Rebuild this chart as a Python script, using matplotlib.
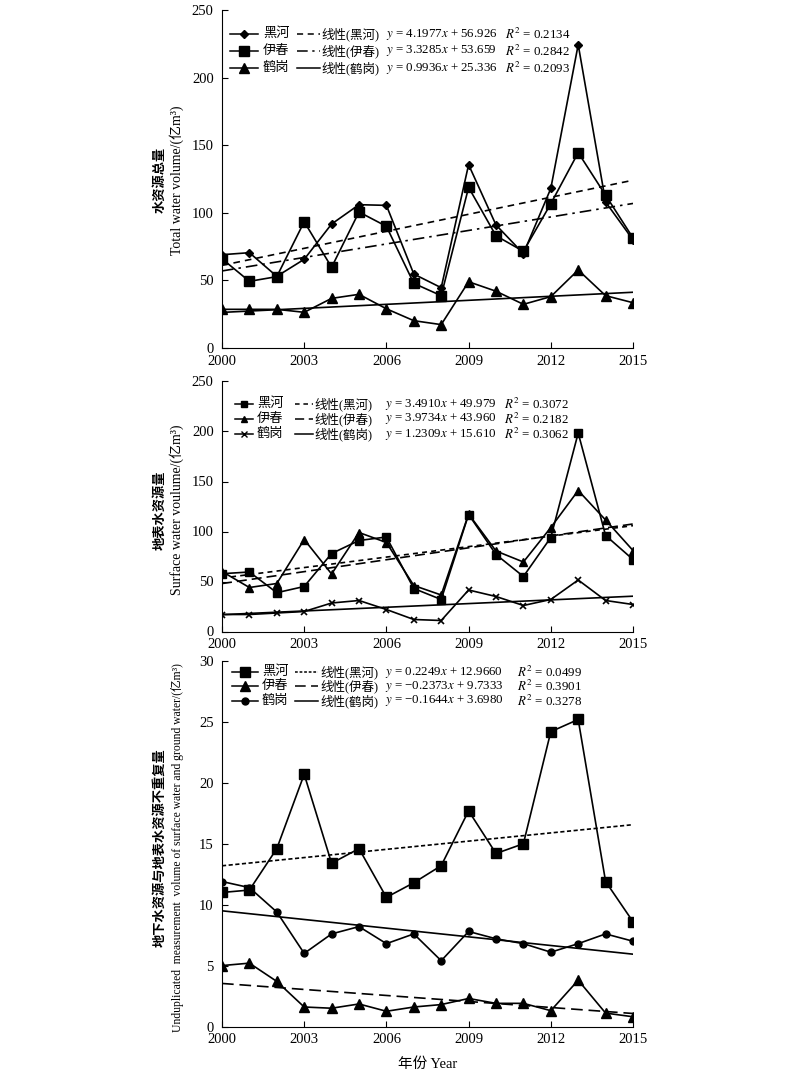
import matplotlib
matplotlib.use('Agg')
import matplotlib.pyplot as plt
from matplotlib.lines import Line2D
import numpy as np

plt.rcParams['font.family'] = ['Liberation Serif', 'Noto Sans CJK SC']
plt.rcParams['mathtext.fontset'] = 'stix'
plt.rcParams['font.size'] = 9

years = np.arange(2000, 2016)

# panel 1 - total water volume
total_heihe = [69, 70.5, 53, 65.6, 91.7, 106, 105.5, 54.7, 44.6, 135.6, 91, 69.8, 118, 224.4, 108, 80]
total_yichun = [66, 49.3, 52.8, 93.4, 59.7, 100.6, 90, 47.8, 38.7, 118.8, 83, 71.5, 106.7, 144.5, 113, 81.4]
total_hegang = [28.6, 28.6, 28.6, 26.4, 36.7, 39.7, 29, 20.2, 17.3, 49, 42, 32.3, 38, 57.7, 38.7, 33.5]
total_fit = [(4.1977, 56.926), (3.3285, 53.659), (0.9936, 25.336)]
total_r2 = ['0.2134', '0.2842', '0.2093']

# panel 2 - surface water
surf_heihe = [57.8, 59.5, 38.8, 45, 78, 91, 94.5, 43, 32, 117, 77, 55, 94, 198.5, 96, 72]
surf_yichun = [60, 44, 48, 92, 57.5, 99, 89, 46, 36.5, 117.5, 80.5, 69.5, 104, 141, 111.5, 81]
surf_hegang = [17, 17, 18.5, 20, 28.5, 31, 22, 12, 11, 41.5, 35, 26, 32, 51.5, 31, 27]
surf_fit = [(3.4910, 49.979), (3.9734, 43.960), (1.2309, 15.610)]
surf_r2 = ['0.3072', '0.2182', '0.3062']

# panel 3 - unduplicated volume
und_heihe = [11.0, 11.2, 14.6, 20.7, 13.4, 14.6, 10.6, 11.8, 13.2, 17.7, 14.2, 15.0, 24.2, 25.2, 11.9, 8.6]
und_yichun = [5.0, 5.2, 3.7, 1.6, 1.5, 1.85, 1.25, 1.6, 1.8, 2.3, 1.9, 1.9, 1.3, 3.8, 1.1, 0.8]
und_hegang = [11.9, 11.4, 9.4, 6.0, 7.6, 8.2, 6.8, 7.6, 5.4, 7.8, 7.2, 6.8, 6.1, 6.8, 7.6, 7.0]
# lines as drawn in the figure (legend text pairs them differently)
und_fit = [(0.2249, 12.9660), (-0.1644, 3.6980), (-0.2373, 9.7333)]
und_eq = ['$y$ = 0.2249$x$ + 12.9660', '$y$ = −0.2373$x$ + 9.7333', '$y$ = −0.1644$x$ + 3.6980']
und_r2 = ['0.0499', '0.3901', '0.3278']

names = ['黑河', '伊春', '鹤岗']

fig = plt.figure(figsize=(8, 10.72), dpi=100)
W, H = 800.0, 1072.0
left, right = 222 / W, 633 / W


def make_ax(top_px, bot_px):
    ax = fig.add_axes([left, 1 - bot_px / H, right - left, (bot_px - top_px) / H])
    ax.spines['top'].set_visible(False)
    ax.spines['right'].set_visible(False)
    ax.tick_params(direction='in', length=4, width=0.8, labelsize=10.5)
    ax.tick_params(axis='x', pad=5)
    ax.tick_params(axis='y', pad=6)
    ax.set_xlim(2000, 2015)
    ax.set_xticks(range(2000, 2016, 3))
    return ax


def px_to_ax(ax, x, y):
    # figure pixel (from top) to axes fraction
    pos = ax.get_position()
    fx = x / W
    fy = 1 - y / H
    return (fx - pos.x0) / pos.width, (fy - pos.y0) / pos.height


def legend_rows(ax, rows, mstyle, tstyle, eqs, r2s, cols):
    hx0, hx1, nx, tx0, tx1, lx, ex, rx = cols
    for i in range(3):
        y = rows[i]
        a0, ay = px_to_ax(ax, hx0, y)
        a1, _ = px_to_ax(ax, hx1, y)
        ax.add_line(Line2D([a0, a1], [ay, ay], transform=ax.transAxes, color='k', lw=1.1, clip_on=False))
        ax.add_line(Line2D([(a0 + a1) / 2], [ay], transform=ax.transAxes, color='k', marker=mstyle[i][0],
                           ms=mstyle[i][1], mew=1, clip_on=False))
        t0, _ = px_to_ax(ax, tx0, y)
        t1, _ = px_to_ax(ax, tx1, y)
        ax.add_line(Line2D([t0, t1], [ay, ay], transform=ax.transAxes, color='k', lw=1.1,
                           linestyle=tstyle[i], clip_on=False))
        ax.text(px_to_ax(ax, nx, y)[0], ay, names[i], transform=ax.transAxes, va='center', ha='left', fontsize=9.5)
        ax.text(px_to_ax(ax, lx, y)[0], ay, '线性(' + names[i] + ')', transform=ax.transAxes,
                va='center', ha='left', fontsize=9)
        ax.text(px_to_ax(ax, ex, y)[0], ay, eqs[i], transform=ax.transAxes, va='center', ha='left', fontsize=9.3)
        ax.text(px_to_ax(ax, rx, y)[0], ay, '$R^2$ = ' + r2s[i], transform=ax.transAxes,
                va='center', ha='left', fontsize=9.3)


def ylab(ax, cn, en, ycen_px, en_size=10):
    ax.text(px_to_ax(ax, 160, 0)[0], px_to_ax(ax, 0, ycen_px)[1], cn, transform=ax.transAxes, rotation=90,
            va='center', ha='center', fontsize=9.5, fontweight='bold')
    ax.text(px_to_ax(ax, 177, 0)[0], px_to_ax(ax, 0, ycen_px)[1], en, transform=ax.transAxes, rotation=90,
            va='center', ha='center', fontsize=en_size)


xs = np.linspace(1, 16, 2)

# ---------- panel 1
ax1 = make_ax(10, 348)
ax1.set_ylim(0, 250)
ax1.set_yticks(range(0, 251, 50))
ax1.plot(years, total_heihe, color='k', lw=1.2, marker='D', ms=4.5)
ax1.plot(years, total_yichun, color='k', lw=1.2, marker='s', ms=6.5)
ax1.plot(years, total_hegang, color='k', lw=1.2, marker='^', ms=6.5)
styles1 = [(0, (4, 3)), (0, (7, 3, 1.5, 3)), '-']
for (k, b), ls in zip(total_fit, styles1):
    ax1.plot(xs + 1999, k * xs + b, color='k', lw=1.2, linestyle=ls)
eq1 = ['$y$ = %.4f$x$ + %.3f' % fb for fb in total_fit]
legend_rows(ax1, [34, 51, 68], [('D', 4.5), ('s', 6.5), ('^', 6.5)], styles1, eq1, total_r2,
            (230, 258, 263, 297, 320, 321, 386, 505))
ylab(ax1, '水资源总量', 'Total water volume/(亿m³)', 180)

# ---------- panel 2
ax2 = make_ax(381.5, 631.5)
ax2.set_ylim(0, 250)
ax2.set_yticks(range(0, 251, 50))
ax2.plot(years, surf_heihe, color='k', lw=1.2, marker='s', ms=6)
ax2.plot(years, surf_yichun, color='k', lw=1.2, marker='^', ms=6)
ax2.plot(years, surf_hegang, color='k', lw=1.2, marker='x', ms=5, mew=1.2)
styles2 = [(0, (3, 2.5)), (0, (6, 3)), '-']
for (k, b), ls in zip(surf_fit, styles2):
    ax2.plot(xs + 1999, k * xs + b, color='k', lw=1.2, linestyle=ls)
eq2 = ['$y$ = %.4f$x$ + %.3f' % fb for fb in surf_fit]
legend_rows(ax2, [404, 419, 434], [('s', 5), ('^', 5), ('x', 4.5)], styles2, eq2, surf_r2,
            (235, 253, 257, 295, 313, 314, 385, 504))
ylab(ax2, '地表水资源量', 'Surface water voulume/(亿m³)', 510)

# ---------- panel 3
ax3 = make_ax(661, 1026.5)
ax3.set_ylim(0, 30)
ax3.set_yticks(range(0, 31, 5))
ax3.plot(years, und_heihe, color='k', lw=1.2, marker='s', ms=6.5)
ax3.plot(years, und_yichun, color='k', lw=1.2, marker='^', ms=6.5)
ax3.plot(years, und_hegang, color='k', lw=1.2, marker='o', ms=5)
styles3 = [(0, (2.5, 1.5)), (0, (7, 3.5)), '-']
for (k, b), ls in zip(und_fit, styles3):
    ax3.plot(xs + 1999, k * xs + b, color='k', lw=1.2, linestyle=ls)
legend_rows(ax3, [672, 686, 701], [('s', 6.5), ('^', 6.5), ('o', 5)],
            [(0, (1.8, 1.2)), (0, (7, 3.5)), '-'], und_eq, und_r2,
            (232, 258, 262, 295, 318, 320, 385, 517))
ylab(ax3, '地下水资源与地表水资源不重复量',
     'Unduplicated  measurement  volume of surface water and ground water/(亿m³)', 848, en_size=8.4)
ax3.set_xlabel('年份 Year', fontsize=10.5, labelpad=8)

fig.savefig('out.png', dpi=100)
